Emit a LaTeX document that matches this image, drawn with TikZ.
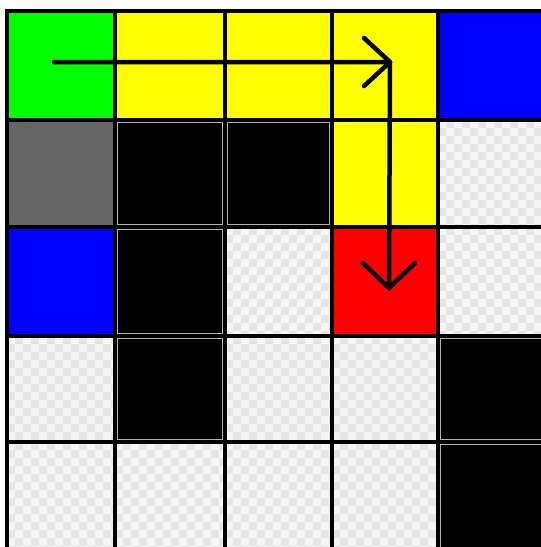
\documentclass[tikz,border=0pt]{standalone}
\usetikzlibrary{calc}
\definecolor{cgreen}{HTML}{00FF00}
\definecolor{cyellow}{HTML}{FFFF00}
\definecolor{cblue}{HTML}{0000FF}
\definecolor{cred}{HTML}{FF0000}
\definecolor{cgray}{HTML}{666666}
\definecolor{chklight}{HTML}{F5F5F5}
\definecolor{chkdark}{HTML}{E6E6E6}
\newcommand\checkcell[4]{%
  \begin{scope}
    \clip (#1,#2) rectangle (#3,#4);
    \fill[chklight] (#1,#2) rectangle (#3,#4);
    \foreach \i in {0,...,13}{
      \foreach \j in {0,...,13}{
        \pgfmathtruncatemacro\chkparity{mod(\i+\j,2)}
        \ifnum\chkparity=1
          \fill[chkdark] ($(#1,#2)+(\i*8,\j*8)$) rectangle ++(8,8);
        \fi
      }
    }
  \end{scope}%
}
\tikzset{
  gridline/.style={line width=4pt, black},
  pathline/.style={line width=4.5pt, black, line cap=round, line join=round},
  blackcell/.style={fill=black, draw=gray!60, line width=0.8pt},
}
\begin{document}
\begin{tikzpicture}[x=1pt,y=-1pt]
\useasboundingbox (0,0) rectangle (541,547);
\fill[white] (0,0) rectangle (541,547);
\begin{scope}
\clip (0,0) rectangle (541,547);
% row 0
\fill[cgreen] (7,10.5) rectangle (115,119.5);
\fill[cyellow] (115,10.5) rectangle (225,119.5);
\fill[cyellow] (225,10.5) rectangle (332,119.5);
\fill[cyellow] (332,10.5) rectangle (438,119.5);
\fill[cblue] (438,10.5) rectangle (552,119.5);
% row 1
\fill[cgray] (7,119.5) rectangle (115,227);
\draw[blackcell] (117.5,122) rectangle (222.5,224.5);
\draw[blackcell] (227.5,122) rectangle (329.5,224.5);
\fill[cyellow] (332,119.5) rectangle (438,227);
\checkcell{438}{119.5}{552}{227}
% row 2
\fill[cblue] (7,227) rectangle (115,336);
\draw[blackcell] (117.5,229.5) rectangle (222.5,333.5);
\checkcell{225}{227}{332}{336}
\fill[cred] (332,227) rectangle (438,336);
\checkcell{438}{227}{552}{336}
% row 3
\checkcell{7}{336}{115}{442}
\draw[blackcell] (117.5,338.5) rectangle (222.5,439.5);
\checkcell{225}{336}{332}{442}
\checkcell{332}{336}{438}{442}
\draw[blackcell] (440.5,338.5) rectangle (552,439.5);
% row 4
\checkcell{7}{442}{115}{552}
\checkcell{115}{442}{225}{552}
\checkcell{225}{442}{332}{552}
\checkcell{332}{442}{438}{552}
\draw[blackcell] (440.5,444.5) rectangle (552,552);
% grid lines
\foreach \x in {7,115,225,332,438}{
  \draw[gridline] (\x,8.5) -- (\x,552);
}
\foreach \y in {10.5,119.5,227,336,442}{
  \draw[gridline] (5,\y) -- (552,\y);
}
% path arrow
\coordinate (start) at (54,62);
\coordinate (turn) at (390,62);
\coordinate (finish) at (389,288);
\draw[pathline] (start) -- (turn) -- (finish);
\draw[pathline] ($(turn)+(-26,-24)$) -- (turn) -- ($(turn)+(-26,24)$);
\draw[pathline] ($(finish)+(-26,-25)$) -- (finish) -- ($(finish)+(26,-25)$);
\end{scope}
\end{tikzpicture}
\end{document}
